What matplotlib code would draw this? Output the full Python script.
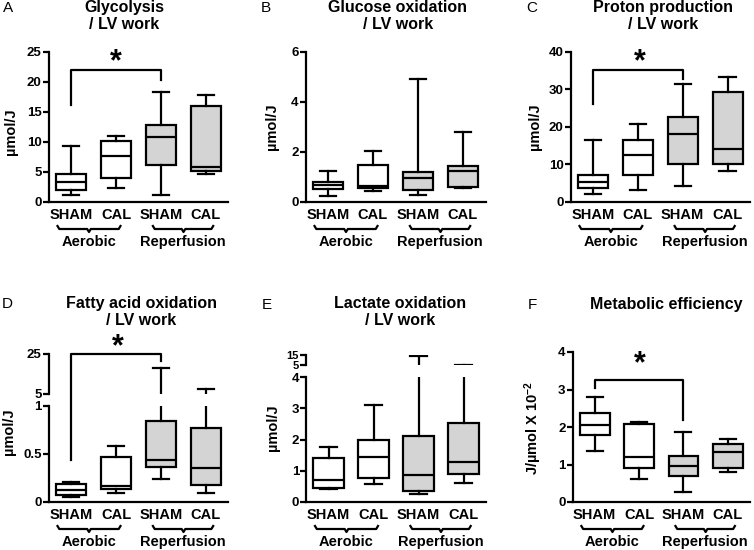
import matplotlib
matplotlib.use('Agg')
import matplotlib.pyplot as plt
import matplotlib.transforms as mtrans
from matplotlib.lines import Line2D

plt.rcParams['font.family'] = ['Liberation Sans', 'DejaVu Sans']
plt.rcParams['font.weight'] = 'bold'
plt.rcParams['mathtext.default'] = 'regular'

# box stats per panel: (whislo, q1, median, q3, whishi) for SHAM-aer, CAL-aer, SHAM-rep, CAL-rep
groups = ['SHAM', 'CAL', 'SHAM', 'CAL']
glyco = [(1.2, 2.05, 3.3, 4.6, 9.4), (2.3, 4.0, 7.7, 10.2, 11.0),
         (1.2, 6.2, 10.9, 12.8, 18.3), (4.7, 5.1, 5.9, 16.0, 17.9)]
gluox = [(0.25, 0.52, 0.67, 0.8, 1.23), (0.43, 0.56, 0.63, 1.47, 2.03),
         (0.29, 0.49, 0.96, 1.2, 4.93), (0.55, 0.6, 1.23, 1.43, 2.8)]
proton = [(2.0, 3.6, 5.4, 7.3, 16.4), (3.3, 7.1, 12.6, 16.4, 20.7),
          (4.3, 10.2, 18.1, 22.6, 31.4), (8.2, 10.2, 14.1, 29.2, 33.4)]
faox = [(0.056, 0.07, 0.13, 0.19, 0.205), (0.09, 0.14, 0.167, 0.47, 0.585),
        (0.237, 0.36, 0.435, 0.847, 18.2), (0.098, 0.174, 0.352, 0.774, 7.3)]
lacox = [(0.43, 0.46, 0.70, 1.42, 1.75), (0.59, 0.78, 1.45, 2.0, 3.09),
         (0.25, 0.35, 0.86, 2.11, 14.3), (0.62, 0.91, 1.29, 2.52, 5.3)]
effic = [(1.37, 1.79, 2.05, 2.38, 2.79), (0.62, 0.9, 1.21, 2.08, 2.14),
         (0.28, 0.7, 0.97, 1.23, 1.86), (0.81, 0.9, 1.33, 1.55, 1.67)]

fills = ['white', 'white', '#d4d4d4', '#d4d4d4']
LW = 1.6
W, H = 754, 550
fig = plt.figure(figsize=(W / 100, H / 100), dpi=100)


def add_ax(left, top, right, bottom):
    return fig.add_axes([left / W, 1 - bottom / H, (right - left) / W, (bottom - top) / H])


def boxes(ax, stats):
    bx = [dict(whislo=s[0], q1=s[1], med=s[2], q3=s[3], whishi=s[4]) for s in stats]
    res = ax.bxp(bx, positions=range(4), widths=0.67, patch_artist=True, showfliers=False,
                 boxprops=dict(linewidth=LW), whiskerprops=dict(linewidth=LW),
                 capprops=dict(linewidth=LW), medianprops=dict(color='black', linewidth=LW),
                 capwidths=0.36)
    for p, c in zip(res['boxes'], fills):
        p.set_facecolor(c)
        p.set_edgecolor('black')


def style(ax, ylim, yticks, ylabels=None, bottom=True, fs=9.5):
    ax.set_xlim(-0.5, 3.5)
    ax.set_ylim(*ylim)
    ax.set_yticks(yticks)
    if ylabels is not None:
        ax.set_yticklabels(ylabels)
    ax.tick_params(axis='y', length=4, width=LW, labelsize=fs, pad=1)
    ax.set_xticks([])
    ax.spines['top'].set_visible(False)
    ax.spines['right'].set_visible(False)
    ax.spines['left'].set_linewidth(LW)
    ax.spines['bottom'].set_linewidth(LW)
    if not bottom:
        ax.spines['bottom'].set_visible(False)
    ax.patch.set_alpha(0)


def xlabels(ax, cen_a=0.4, cen_r=2.5):
    ah = ax.bbox.height
    tr = lambda dy: mtrans.offset_copy(ax.get_xaxis_transform(), fig=fig, y=-dy, units='dots')
    for i, g in enumerate(groups):
        ax.text(i, 0, g, transform=tr(13), ha='center', va='center', fontsize=10.5, clip_on=False)
    for x0, x1, xm, name in [(-0.3, 1.1, cen_a, 'Aerobic'), (1.82, 3.16, cen_r, 'Reperfusion')]:
        xs = [x0, x0 + 0.04, xm - 0.04, xm, xm + 0.04, x1 - 0.04, x1]
        ys = [3, 0, 0, -3, 0, 0, 3]
        ax.add_line(Line2D(xs, [y / ah for y in ys], transform=tr(27), color='black',
                           linewidth=LW, clip_on=False))
        ax.text((x0 + x1) / 2, 0, name, transform=tr(40), ha='center', va='center',
                fontsize=10.5, clip_on=False)


def bracket(pts, star):
    disp = [a.transData.transform((x, y)) for a, x, y in pts]
    f = fig.transFigure.inverted()
    fp = [f.transform(d) for d in disp]
    fig.add_artist(Line2D([p[0] for p in fp], [p[1] for p in fp], transform=fig.transFigure,
                          color='black', linewidth=LW))
    a, x, y = star
    sp = f.transform(a.transData.transform((x, y)))
    fig.text(sp[0], sp[1], '*', ha='center', va='center', fontsize=22)


def ftext(x, y, s, **kw):
    fig.text(x / W, 1 - y / H, s, **kw)


# A
axA = add_ax(48.5, 52, 228.5, 202)
boxes(axA, glyco)
style(axA, (0, 25), [0, 5, 10, 15, 20, 25])
xlabels(axA)
bracket([(axA, 0, 16.1), (axA, 0, 22), (axA, 2, 22), (axA, 2, 20.3)], (axA, 1, 23.3))

# B
axB = add_ax(305.5, 52, 485.5, 202)
boxes(axB, gluox)
style(axB, (0, 6), [0, 2, 4, 6])
xlabels(axB)

# C
axC = add_ax(570.5, 52, 750, 202)
boxes(axC, proton)
style(axC, (0, 40), [0, 10, 20, 30, 40])
xlabels(axC)
bracket([(axC, 0, 26), (axC, 0, 35.1), (axC, 2, 35.1), (axC, 2, 32.7)], (axC, 1.04, 37.2))

# D (broken axis)
axD = add_ax(48.5, 406, 228.5, 502)
boxes(axD, faox)
style(axD, (0, 1), [0, 0.5, 1], ['0', '0.5', '1'])
xlabels(axD)
axD2 = add_ax(48.5, 354, 228.5, 394)
boxes(axD2, faox)
style(axD2, (5, 25), [5, 25], bottom=False)
bracket([(axD, 0, 0.435), (axD2, 0, 25), (axD2, 2, 25), (axD2, 2, 21.5)], (axD2, 1.05, 28.3))

# E (broken axis)
axE = add_ax(306, 377, 486, 502)
boxes(axE, lacox)
style(axE, (0, 4), [0, 1, 2, 3, 4])
xlabels(axE)
axE2 = add_ax(306, 355, 486, 365)
boxes(axE2, lacox)
style(axE2, (5, 15), [5, 15], bottom=False, fs=8)

# F
axF = add_ax(572.5, 352, 750, 502)
boxes(axF, effic)
style(axF, (0, 4), [0, 1, 2, 3, 4])
xlabels(axF)
bracket([(axF, 0, 3.03), (axF, 0, 3.25), (axF, 2, 3.25), (axF, 2, 2.18)], (axF, 1.02, 3.66))

# titles, letters, y labels
tkw = dict(ha='center', va='center', fontsize=11.5, fontweight='bold', linespacing=1.2)
ftext(124, 16, 'Glycolysis\n/ LV work', **tkw)
ftext(398, 16, 'Glucose oxidation\n/ LV work', **tkw)
ftext(663, 16, 'Proton production\n/ LV work', **tkw)
ftext(141, 312, 'Fatty acid oxidation\n/ LV work', **tkw)
ftext(400, 312, 'Lactate oxidation\n/ LV work', **tkw)
ftext(666, 305, 'Metabolic efficiency', **tkw)

lkw = dict(ha='center', va='center', fontsize=11, fontweight='normal')
for x, y, s in [(8, 8, 'A'), (266, 8, 'B'), (532, 8, 'C'),
                (7, 304, 'D'), (267, 305, 'E'), (532, 305, 'F')]:
    ftext(x, y, s, **lkw)

ykw = dict(ha='center', va='center', rotation=90, fontsize=10.5, fontweight='bold')
ftext(11, 132, 'µmol/J', **ykw)
ftext(272, 127, 'µmol/J', **ykw)
ftext(535, 127, 'µmol/J', **ykw)
ftext(9, 432, 'µmol/J', **ykw)
ftext(273, 428, 'µmol/J', **ykw)
ftext(533, 428, r'J/µmol X 10$^{-2}$', **ykw)

fig.savefig('out.png', dpi=100)
